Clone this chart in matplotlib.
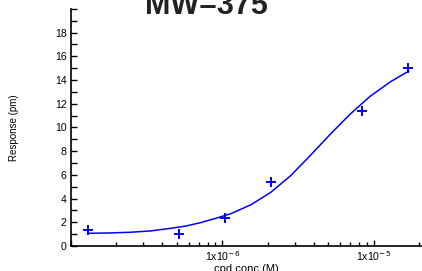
import matplotlib
matplotlib.use("Agg")
import matplotlib.pyplot as plt
from matplotlib.ticker import FixedLocator, NullFormatter

plt.rcParams['font.family'] = ['Liberation Sans', 'DejaVu Sans']

# measured points
conc = [1.3e-7, 5.2e-7, 1.04e-6, 2.08e-6, 8.3e-6, 1.67e-5]
resp = [1.35, 1.0, 2.4, 5.4, 11.35, 15.05]

# fitted curve
fit_conc = [1.29e-7, 1.83e-7, 2.48e-7, 3.36e-7, 4.56e-7, 5.73e-7, 7.19e-7,
            9.03e-7, 1.135e-6, 1.54e-6, 2.08e-6, 2.82e-6, 3.82e-6, 5.18e-6,
            7.02e-6, 9.51e-6, 1.288e-5, 1.70e-5]
fit_resp = [1.07, 1.10, 1.16, 1.27, 1.49, 1.68, 1.97,
            2.33, 2.72, 3.47, 4.51, 5.92, 7.65, 9.45,
            11.15, 12.65, 13.85, 14.75]

title = "MW=375"
xlabel = "cpd conc (M)"
ylabel = "Response (pm)"

fig = plt.figure(figsize=(4.22, 2.71), dpi=100)
ax = fig.add_axes([0.168, 0.0923, 0.832, 0.875])

ax.plot(fit_conc, fit_resp, color='#0000ff', lw=1.1)
ax.plot(conc, resp, ls='none', marker='+', ms=6.8, mew=1.4, color='#0000ff')

ax.set_xscale('log')
ax.set_xlim(1e-7, 2.08e-5)
ax.set_ylim(0, 20)

ax.spines['top'].set_visible(False)
ax.spines['right'].set_visible(False)
ax.spines['left'].set_linewidth(1.2)
ax.spines['bottom'].set_linewidth(1.2)

ax.xaxis.set_major_locator(FixedLocator([1e-7, 1e-6, 1e-5]))
ax.set_xticklabels(["", r"1x10$^{-6}$", r"1x10$^{-5}$"])
minors = [m * 10.0 ** e for e in (-7, -6, -5) for m in range(2, 10)]
ax.xaxis.set_minor_locator(FixedLocator(minors))
ax.xaxis.set_minor_formatter(NullFormatter())

ax.set_yticks(list(range(0, 21, 2)))
ax.set_yticklabels([str(v) for v in range(0, 19, 2)] + [""])
ax.set_yticks(list(range(1, 21, 2)), minor=True)

ax.tick_params(axis='both', which='both', direction='in', width=1.0,
               labelsize=7.6, color='black')
ax.tick_params(axis='y', which='both', length=4.5, pad=3)
ax.tick_params(axis='x', which='major', length=4.5, pad=2)
ax.tick_params(axis='x', which='minor', length=3)

ax.set_xlabel(xlabel, fontsize=8, labelpad=1)
ax.set_ylabel(ylabel, fontsize=7, labelpad=26)

fig.text(0.49, 0.948, title, fontsize=22, fontweight='bold',
         ha='center', va='baseline', color='#222222')

fig.savefig("out.png", dpi=100)
